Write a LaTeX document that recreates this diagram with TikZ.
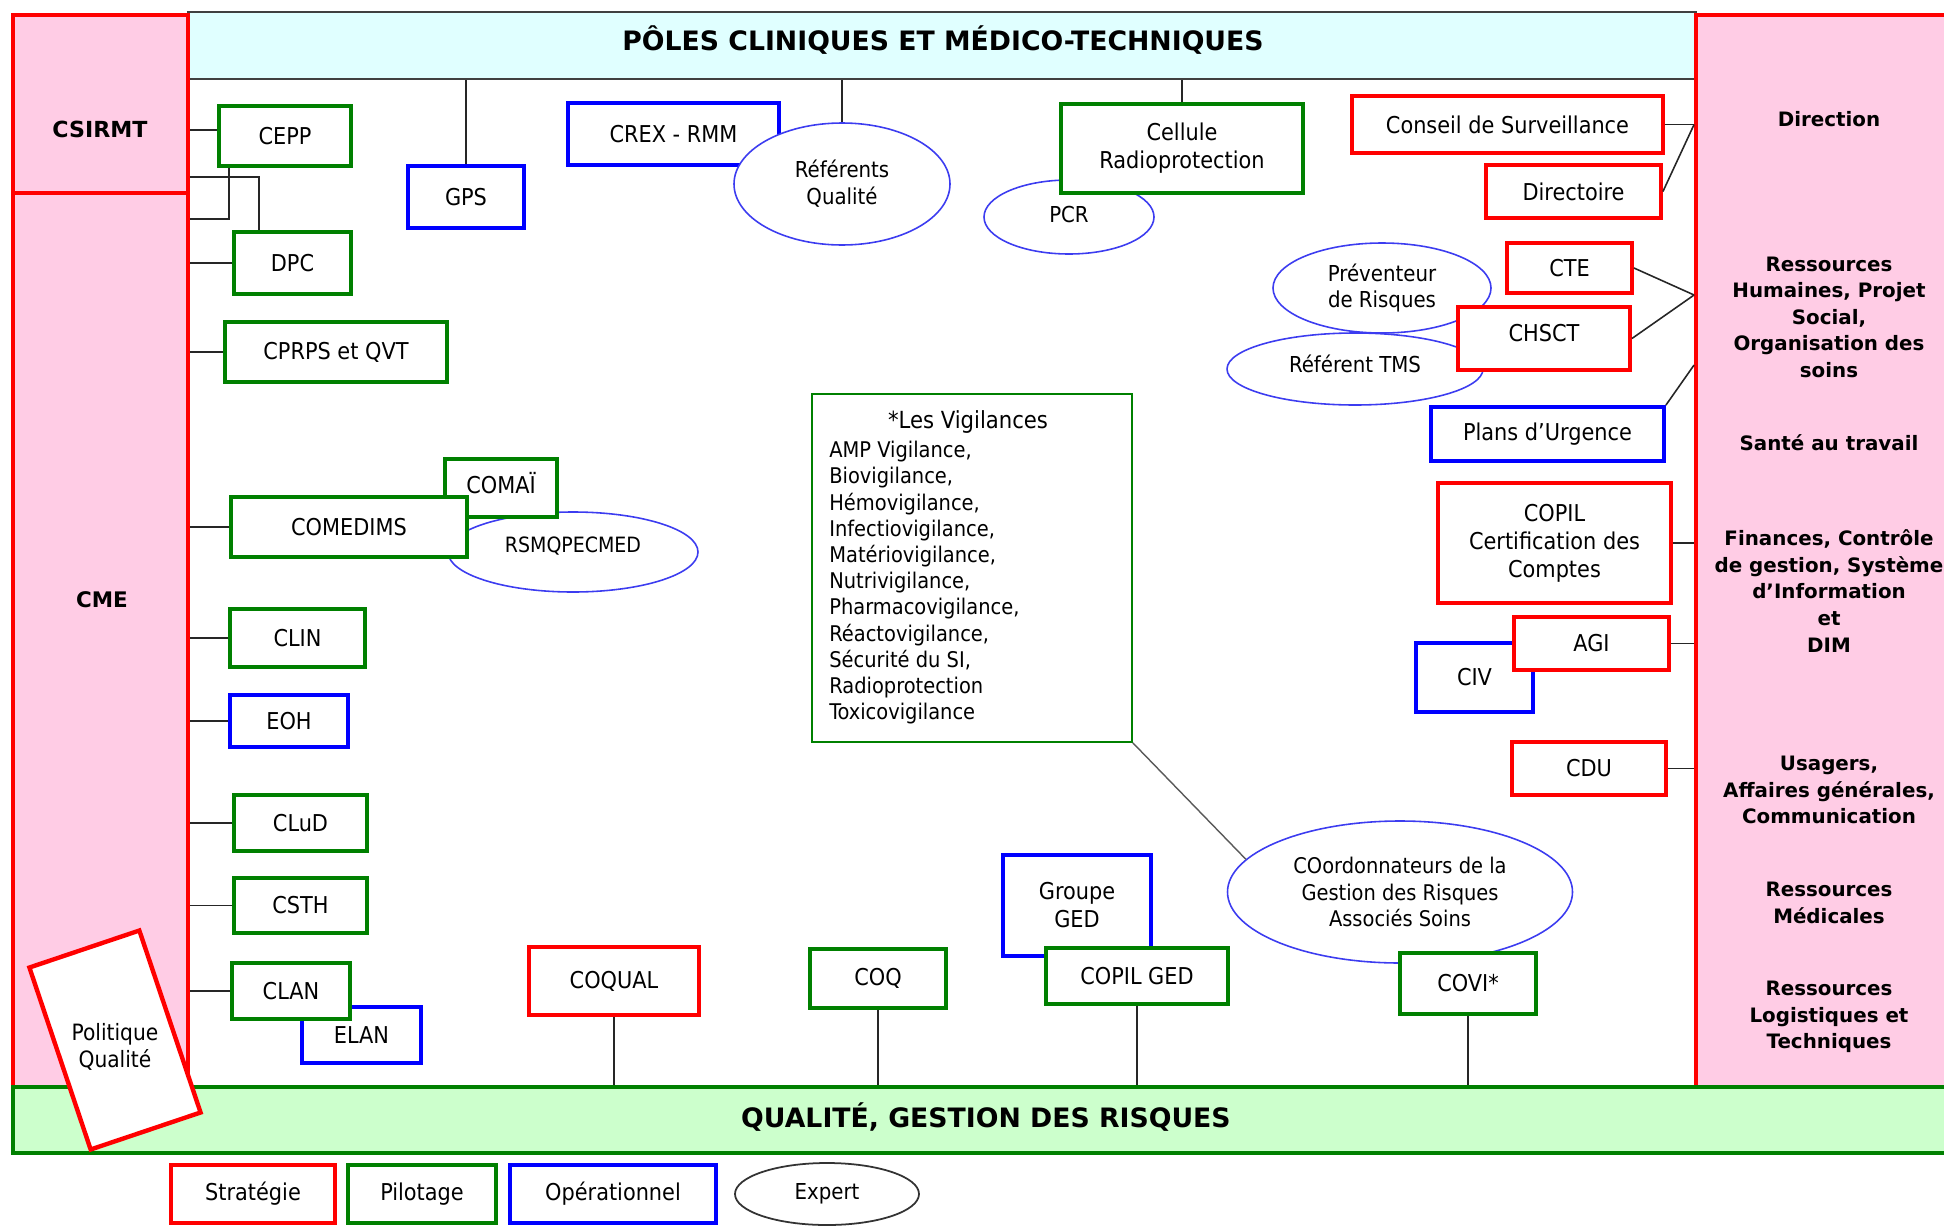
\documentclass[tikz,border=0pt]{standalone}
\usepackage{fontspec}
\setmainfont{DejaVu Sans Condensed}
\newfontfamily\hb{DejaVu Sans}
\usetikzlibrary{shapes.geometric}
\definecolor{rd}{RGB}{255,0,0}
\definecolor{gr}{RGB}{0,128,0}
\definecolor{bl}{RGB}{0,0,255}
\definecolor{elb}{RGB}{60,60,240}
\definecolor{pinkc}{RGB}{255,204,229}
\definecolor{cyanc}{RGB}{224,255,255}
\definecolor{bandc}{RGB}{204,255,204}
\def\u{0.02cm}
% box from corner (x1,y1) to (x2,y2) in pixel units
\newcommand\bx[7]{\node[#1, minimum width={(#5-#3)*0.02cm}, minimum height={(#6-#4)*0.02cm}] (#2) at ({(#3+#5)/2},{(#4+#6)/2}) {#7};}
\begin{document}
\begin{tikzpicture}[x=0.02cm,y=-0.02cm,
  basebx/.style={draw, fill=white, line width=2.2pt, inner sep=0pt, align=center, font=\fontsize{13.2}{15.9}\selectfont},
  rbx/.style={basebx, draw=rd},
  gbx/.style={basebx, draw=gr},
  bbx/.style={basebx, draw=bl},
  ell/.style={ellipse, draw=elb, line width=0.9pt, fill=white, inner sep=0pt, align=center, font=\fontsize{12.5}{15.3}\selectfont},
  column/.style={draw=rd, line width=2.2pt, fill=pinkc, inner sep=0pt},
  conn/.style={draw=black!85, line width=0.9pt},
  coltxt/.style={font=\hb\bfseries\fontsize{11.3}{15.1}\selectfont, align=center},
  bigtxt/.style={font=\hb\bfseries\fontsize{15.2}{18}\selectfont},
]
\useasboundingbox (0,0) rectangle (1944,1227);
\begin{scope}
\clip (0,0) rectangle (1944,1227);
% frames
\bx{draw=black!75, line width=1.2pt, fill=cyanc, inner sep=0pt}{header}{188}{12}{1696}{79}{}
\bx{column}{csirmt}{13}{15}{188}{193}{}
\bx{column}{cme}{13}{193}{188}{1087}{}
\bx{column}{dircol}{1696}{15}{1975}{1087}{}
\bx{draw=gr, line width=2.2pt, fill=bandc, inner sep=0pt}{band}{13}{1087}{1975}{1153}{}

\node[bigtxt] (htxt) at (943,40) {PÔLES CLINIQUES ET MÉDICO-TECHNIQUES};
\node[bigtxt] (btxt) at (986,1117) {QUALITÉ, GESTION DES RISQUES};
\node[coltxt, font=\hb\bfseries\fontsize{12.6}{15}\selectfont] (csirmtt) at (100,129) {CSIRMT};
\node[coltxt, font=\hb\bfseries\fontsize{12.2}{15}\selectfont] (cmet) at (102,600) {CME};

\node[coltxt] (t1) at (1829,119) {Direction};
\node[coltxt] (t2) at (1829,317) {Ressources\\Humaines, Projet\\Social,\\Organisation des\\soins};
\node[coltxt] (t3) at (1829,443) {Santé au travail};
\node[coltxt] (t4) at (1829,591) {Finances, Contrôle\\de gestion, Système\\d’Information\\et\\DIM};
\node[coltxt] (t5) at (1829,790) {Usagers,\\Affaires générales,\\Communication};
\node[coltxt] (t6) at (1829,903) {Ressources\\Médicales};
\node[coltxt] (t7) at (1829,1017) {Ressources\\Logistiques et\\Techniques};

% nodes (left)
\bx{gbx}{cepp}{219}{106}{351}{166}{CEPP}
\bx{bbx}{gps}{408}{166}{524}{228}{GPS}
\bx{gbx}{dpc}{234}{232}{351}{294}{DPC}
\bx{gbx}{cprps}{225}{322}{447}{382}{CPRPS et QVT}
\bx{bbx}{crex}{568}{103}{779}{165}{CREX - RMM}
\node[ell, minimum width=216*\u, minimum height=122*\u] (refq) at (842,184) {Référents\\Qualité};
\node[ell, minimum width=170*\u, minimum height=74*\u] (pcr) at (1069,217) {\raisebox{0.1cm}{PCR}};
\bx{gbx}{cellule}{1061}{104}{1303}{193}{Cellule\\Radioprotection}

\node[ell, minimum width=250*\u, minimum height=80*\u, font=\fontsize{12}{15}\selectfont] (rsmq) at (573,552) {\raisebox{0.3cm}{RSMQPECMED}};
\bx{gbx}{comai}{445}{459}{557}{517}{\raisebox{0.2cm}{COMAÏ}}
\bx{gbx}{comedims}{231}{497}{467}{557}{COMEDIMS}
\bx{gbx}{clin}{230}{609}{365}{667}{CLIN}
\bx{bbx}{eoh}{230}{695}{348}{747}{EOH}
\bx{gbx}{clud}{234}{795}{367}{851}{CLuD}
\bx{gbx}{csth}{234}{878}{367}{933}{CSTH}
\bx{bbx}{elan}{302}{1007}{421}{1063}{ELAN}
\bx{gbx}{clan}{232}{963}{350}{1019}{CLAN}

% right side
\bx{rbx}{conseil}{1352}{96}{1663}{153}{Conseil de Surveillance}
\bx{rbx}{directoire}{1486}{165}{1661}{218}{Directoire}
\node[ell, minimum width=218*\u, minimum height=90*\u] (prev) at (1382,288) {Préventeur\\de Risques};
\node[ell, minimum width=256*\u, minimum height=72*\u] (tms) at (1355,369) {\raisebox{0.2cm}{Référent TMS}};
\bx{rbx}{cte}{1507}{243}{1632}{293}{CTE}
\bx{rbx}{chsct}{1458}{307}{1630}{370}{\raisebox{0.24cm}{CHSCT}}
\bx{bbx}{plans}{1431}{407}{1664}{461}{Plans d’Urgence}
\bx{rbx}{copil}{1438}{483}{1671}{603}{COPIL\\Certification des\\Comptes}
\bx{bbx}{civ}{1416}{643}{1533}{712}{CIV}
\bx{rbx}{agi}{1514}{617}{1669}{670}{AGI}
\bx{rbx}{cdu}{1512}{742}{1666}{795}{CDU}

% bottom
\bx{rbx}{coqual}{529}{947}{699}{1015}{COQUAL}
\bx{gbx}{coq}{810}{949}{946}{1008}{COQ}
\bx{bbx}{gged}{1003}{855}{1151}{956}{Groupe\\GED}
\bx{gbx}{copilged}{1046}{948}{1228}{1004}{COPIL GED}
\node[ell, minimum width=345*\u, minimum height=142*\u, font=\fontsize{12.3}{15.3}\selectfont] (coord) at (1400,892) {COordonnateurs de la\\Gestion des Risques\\Associés Soins};
\bx{gbx}{covi}{1400}{953}{1536}{1014}{COVI*}

% vigilances
\bx{draw=gr, line width=0.9pt, fill=white, inner sep=0pt}{vig}{812}{394}{1132}{742}{}
\node[font=\fontsize{13.4}{16}\selectfont] (vigt) at (968,422) {*Les Vigilances};
\node[anchor=north west, inner sep=0pt, align=left, font=\fontsize{12.3}{14.9}\selectfont] (vigl) at (829,441) {AMP Vigilance,\\Biovigilance,\\Hémovigilance,\\Infectiovigilance,\\Matériovigilance,\\Nutrivigilance,\\Pharmacovigilance,\\Réactovigilance,\\Sécurité du SI,\\Radioprotection\\Toxicovigilance};

% legend
\bx{rbx}{strat}{171}{1165}{335}{1223}{Stratégie}
\bx{gbx}{pilot}{348}{1165}{496}{1223}{Pilotage}
\bx{bbx}{oper}{510}{1165}{716}{1223}{Opérationnel}
\node[ell, draw=black!80, line width=1pt, minimum width=184*\u, minimum height=62*\u] (expert) at (827,1194) {Expert};

% connectors
\draw[conn] (cepp.west |- 0,130) -- (csirmt.east |- 0,130);
\draw[conn] (csirmt.east |- 0,177) -| (259,0 |- dpc.north);
\draw[conn] (229,0 |- cepp.south) |- (cme.east |- 0,219);
\foreach \n in {dpc,cprps,comedims,clin,eoh,clud,csth,clan}
  \draw[conn] (\n.west) -- (\n.west -| cme.east);
\draw[conn] (gps.north) -- (gps.north |- header.south);
\draw[conn] (refq.north) -- (refq.north |- header.south);
\draw[conn] (cellule.north) -- (cellule.north |- header.south);
\draw[conn] (conseil.east) -- (conseil.east -| dircol.west);
\coordinate (dirj) at (conseil.east -| dircol.west);
\draw[conn] (directoire.east) -- (dirj);
\coordinate (rhj) at (dircol.west |- 0,295);
\draw[conn] (cte.east) -- (rhj);
\draw[conn] (chsct.east) -- (rhj);
\coordinate (plj) at (dircol.west |- 0,365);
\draw[conn] (plans.north east) -- (plj);
\foreach \n in {copil,agi,cdu}
  \draw[conn] (\n.east) -- (\n.east -| dircol.west);
\foreach \n in {coqual,coq,copilged,covi}
  \draw[conn] (\n.south) -- (\n.south |- band.north);
\draw[draw=black!65, line width=0.8pt] (vig.south east) -- (coord.168);

% politique qualite
\node[draw=rd, fill=white, line width=2.5pt, rotate=18.6, minimum width=116*\u, minimum height=192*\u, inner sep=0pt] (pq) at (115,1040) {};
\node[align=center, font=\fontsize{12.8}{15.5}\selectfont] (pqt) at (115,1047) {Politique\\Qualité};
\end{scope}
\end{tikzpicture}
\end{document}
